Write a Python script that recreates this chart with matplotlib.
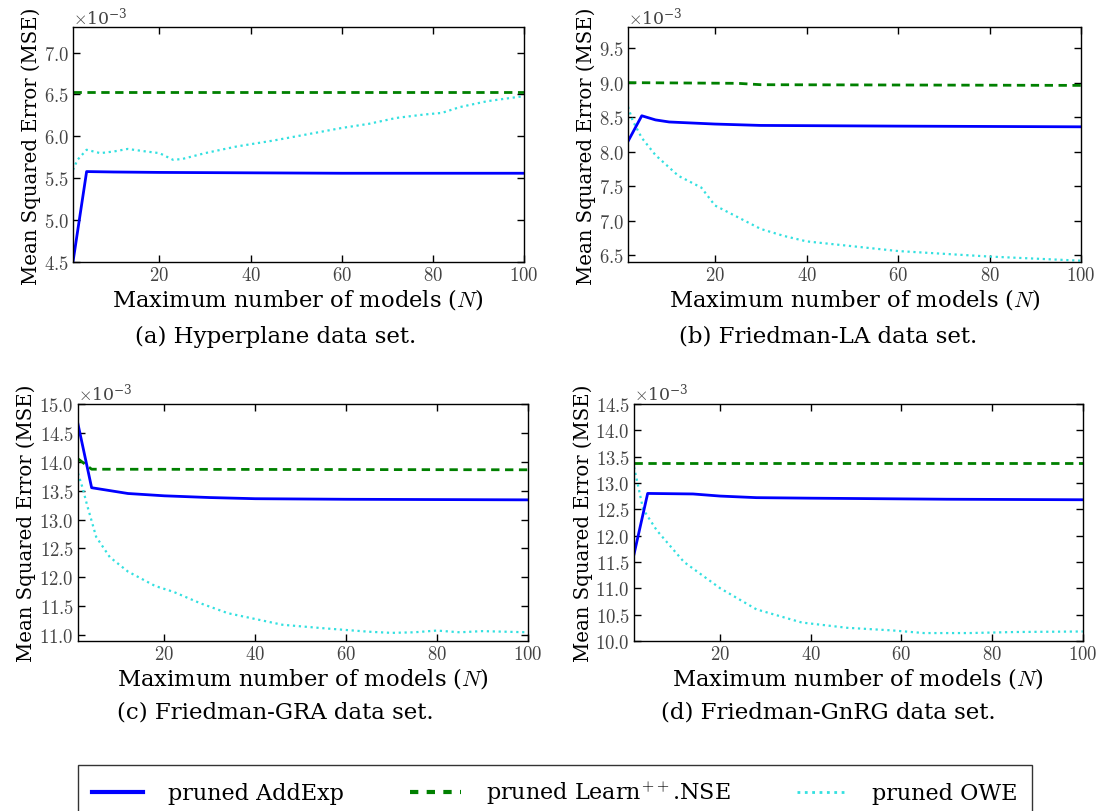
import matplotlib
matplotlib.use("Agg")
import matplotlib.pyplot as plt
from matplotlib.lines import Line2D

plt.rcParams['font.family'] = ['DejaVu Serif']
plt.rcParams['mathtext.fontset'] = 'cm'
plt.rcParams['axes.formatter.use_mathtext'] = True

# (a) Hyperplane
a_add_x = [1, 4, 10, 20, 40, 60, 80, 100]
a_add_y = [4.50, 5.58, 5.575, 5.57, 5.565, 5.56, 5.56, 5.56]
a_nse_x = [1, 100]
a_nse_y = [6.53, 6.53]
a_owe_x = [1, 2, 4, 7, 10, 13, 17, 20, 23, 25, 30, 37, 45, 52, 60, 66, 72, 78, 82, 86, 92, 100]
a_owe_y = [5.60, 5.72, 5.84, 5.80, 5.82, 5.85, 5.82, 5.80, 5.72, 5.73, 5.80, 5.88, 5.95, 6.02,
           6.10, 6.15, 6.22, 6.26, 6.28, 6.35, 6.42, 6.48]

# (b) Friedman-LA
b_add_x = [1, 4, 7, 10, 20, 30, 60, 100]
b_add_y = [8.15, 8.52, 8.46, 8.43, 8.40, 8.38, 8.37, 8.36]
b_nse_x = [1, 25, 30, 100]
b_nse_y = [9.00, 8.99, 8.97, 8.96]
b_owe_x = [1, 2, 4, 7, 12, 17, 20, 25, 30, 35, 40, 50, 60, 70, 80, 90, 100]
b_owe_y = [8.65, 8.45, 8.20, 7.95, 7.65, 7.48, 7.22, 7.05, 6.88, 6.78, 6.70, 6.63, 6.56, 6.52,
           6.48, 6.45, 6.42]

# (c) Friedman-GRA
c_add_x = [1, 4, 8, 12, 20, 30, 40, 60, 100]
c_add_y = [14.65, 13.55, 13.50, 13.45, 13.41, 13.38, 13.36, 13.35, 13.34]
c_nse_x = [1, 4, 100]
c_nse_y = [14.05, 13.87, 13.86]
c_owe_x = [1, 2, 3, 5, 8, 12, 18, 22, 28, 34, 40, 46, 55, 65, 70, 75, 80, 85, 90, 100]
c_owe_y = [13.80, 13.55, 13.25, 12.70, 12.35, 12.10, 11.85, 11.75, 11.55, 11.38, 11.28, 11.18,
           11.12, 11.06, 11.04, 11.05, 11.08, 11.05, 11.07, 11.05]

# (d) Friedman-GnRG
d_add_x = [1, 4, 14, 20, 28, 40, 55, 70, 100]
d_add_y = [11.65, 12.80, 12.79, 12.75, 12.72, 12.71, 12.70, 12.69, 12.68]
d_nse_x = [1, 100]
d_nse_y = [13.37, 13.37]
d_owe_x = [1, 2, 3, 6, 12, 20, 28, 38, 48, 58, 65, 75, 85, 100]
d_owe_y = [13.30, 12.90, 12.50, 12.10, 11.50, 11.00, 10.60, 10.35, 10.25, 10.20, 10.15, 10.15,
           10.17, 10.18]

panels = [
    ("(a) Hyperplane data set.", a_add_x, a_add_y, a_nse_x, a_nse_y, a_owe_x, a_owe_y, (4.5, 7.3), [4.5, 5.0, 5.5, 6.0, 6.5, 7.0]),
    ("(b) Friedman-LA data set.", b_add_x, b_add_y, b_nse_x, b_nse_y, b_owe_x, b_owe_y, (6.4, 9.8), [6.5, 7.0, 7.5, 8.0, 8.5, 9.0, 9.5]),
    ("(c) Friedman-GRA data set.", c_add_x, c_add_y, c_nse_x, c_nse_y, c_owe_x, c_owe_y, (10.9, 15.0), [11.0, 11.5, 12.0, 12.5, 13.0, 13.5, 14.0, 14.5, 15.0]),
    ("(d) Friedman-GnRG data set.", d_add_x, d_add_y, d_nse_x, d_nse_y, d_owe_x, d_owe_y, (10.0, 14.5), [10.0, 10.5, 11.0, 11.5, 12.0, 12.5, 13.0, 13.5, 14.0, 14.5]),
]

# axes boxes [left, bottom, width, height] in figure fractions
boxes = [
    [0.0665, 0.676, 0.411, 0.289],
    [0.5725, 0.676, 0.413, 0.289],
    [0.0711, 0.2094, 0.410, 0.292],
    [0.578, 0.2094, 0.409, 0.292],
]
caption_x = [0.251, 0.755, 0.251, 0.755]
caption_y = [0.585, 0.585, 0.122, 0.122]

BLUE = '#0000ff'
GREEN = '#008000'
CYAN = '#33e0e0'

fig = plt.figure(figsize=(10.97, 8.12), dpi=100)

for i, (cap, ax_, ay_, nx, ny, ox, oy, ylim, yt) in enumerate(panels):
    ax = fig.add_axes(boxes[i])
    ax.plot(ox, [v * 1e-3 for v in oy], color=CYAN, lw=1.6, linestyle=':')
    ax.plot(nx, [v * 1e-3 for v in ny], color=GREEN, lw=2.0, linestyle='--', dashes=(3, 2))
    ax.plot(ax_, [v * 1e-3 for v in ay_], color=BLUE, lw=2.0)
    ax.set_xlim(1, 100)
    ax.set_ylim(ylim[0] * 1e-3, ylim[1] * 1e-3)
    ax.set_xticks([20, 40, 60, 80, 100])
    ax.set_yticks([v * 1e-3 for v in yt])
    ax.ticklabel_format(axis='y', style='sci', scilimits=(-3, -3), useMathText=True)
    ax.tick_params(direction='in', top=True, right=True, length=5, width=1,
                   labelsize=13.5, labelcolor='#444444', pad=3)
    for lab in ax.get_xticklabels() + ax.get_yticklabels():
        lab.set_family('cmr10')
    ax.yaxis.get_offset_text().set_fontsize(12.5)
    ax.yaxis.get_offset_text().set_color('#444444')
    for s in ax.spines.values():
        s.set_linewidth(1.0)
    ax.set_xlabel('Maximum number of models ($N$)', fontsize=16.3, labelpad=1)
    ax.set_ylabel('Mean Squared Error (MSE)', fontsize=14.2, labelpad=2)
    fig.text(caption_x[i], caption_y[i], cap, fontsize=16.5, ha='center', va='center')

handles = [
    Line2D([], [], color=BLUE, lw=3),
    Line2D([], [], color=GREEN, lw=3, linestyle='--', dashes=(2, 2)),
    Line2D([], [], color=CYAN, lw=2, linestyle=':'),
]
labels = ['pruned AddExp', 'pruned Learn$^{++}$.NSE', 'pruned OWE']
leg = fig.legend(handles, labels, loc='lower left', bbox_to_anchor=(0.071, -0.012, 0.87, 0.07),
                 mode='expand', ncol=3, fontsize=16, frameon=True, fancybox=False,
                 edgecolor='black', handlelength=2.3, handletextpad=1.1,
                 borderpad=0.65, borderaxespad=0.0)
leg.get_frame().set_linewidth(1.0)

fig.savefig('out.png', dpi=100)
